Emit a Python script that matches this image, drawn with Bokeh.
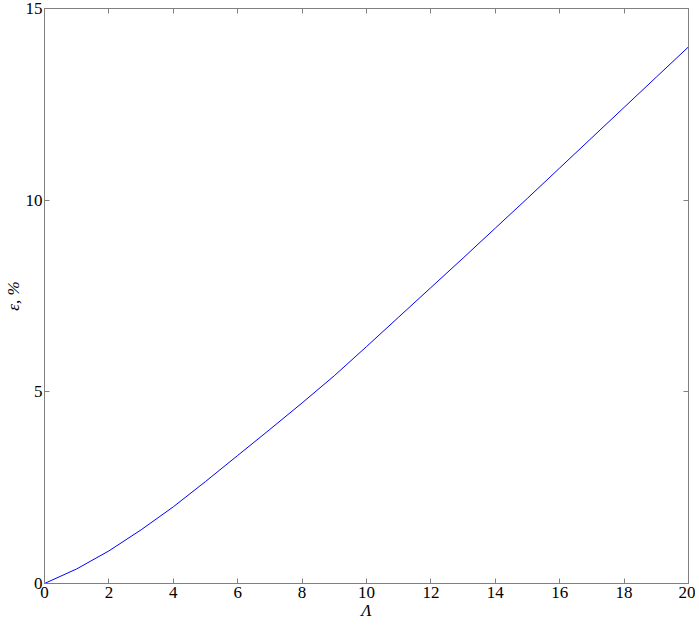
from bokeh.plotting import figure
from bokeh.models import LinearAxis, FixedTicker, Range1d
from bokeh.embed import file_html
from bokeh.resources import INLINE

# Data
lam = [0, 1, 2, 3, 4, 5, 6, 7, 8, 9, 10, 11, 12, 13, 14, 15, 16, 17, 18, 19, 20]
eps = [0.0, 0.38, 0.85, 1.40, 2.00, 2.66, 3.34, 4.02, 4.71, 5.42, 6.18,
       6.95, 7.72, 8.49, 9.27, 10.05, 10.84, 11.63, 12.42, 13.21, 14.0]
x_ticks = [0, 2, 4, 6, 8, 10, 12, 14, 16, 18, 20]
y_ticks = [0, 5, 10, 15]

FONT = "Liberation Serif"
AX = "#808080"

p = figure(width=695, height=622, output_backend="svg", toolbar_location=None,
           x_range=Range1d(0, 20), y_range=Range1d(0, 15),
           min_border_left=44, min_border_right=7, min_border_top=8, min_border_bottom=37)
p.grid.visible = False
p.outline_line_color = AX
p.background_fill_color = "white"

p.line(lam, eps, line_color="#0000ff", line_width=1)

def style(ax):
    ax.axis_line_color = AX
    ax.major_tick_line_color = AX
    ax.major_tick_in = 5
    ax.major_tick_out = 0
    ax.minor_tick_line_color = None
    ax.major_label_text_font = FONT
    ax.major_label_text_color = "black"
    ax.major_label_text_font_size = "17px"
    ax.major_label_standoff = 3
    ax.axis_label_text_font = FONT
    ax.axis_label_text_font_style = "italic"
    ax.axis_label_text_font_size = "17px"
    ax.axis_label_text_color = "black"

xa = p.xaxis[0]
ya = p.yaxis[0]
xa.ticker = FixedTicker(ticks=x_ticks)
ya.ticker = FixedTicker(ticks=y_ticks)
style(xa)
style(ya)
xa.axis_label = "Λ"
ya.axis_label = "ε, %"
xa.axis_label_standoff = 0
ya.axis_label_standoff = 0
ya.major_label_standoff = 2

top = LinearAxis(ticker=FixedTicker(ticks=x_ticks))
right = LinearAxis(ticker=FixedTicker(ticks=y_ticks))
style(top)
style(right)
top.major_label_overrides = {t: "" for t in x_ticks}
right.major_label_overrides = {t: "" for t in y_ticks}
top.major_label_standoff = 0
right.major_label_standoff = 0
p.add_layout(top, "above")
p.add_layout(right, "right")

open("out.html", "w").write(file_html(p, INLINE))
